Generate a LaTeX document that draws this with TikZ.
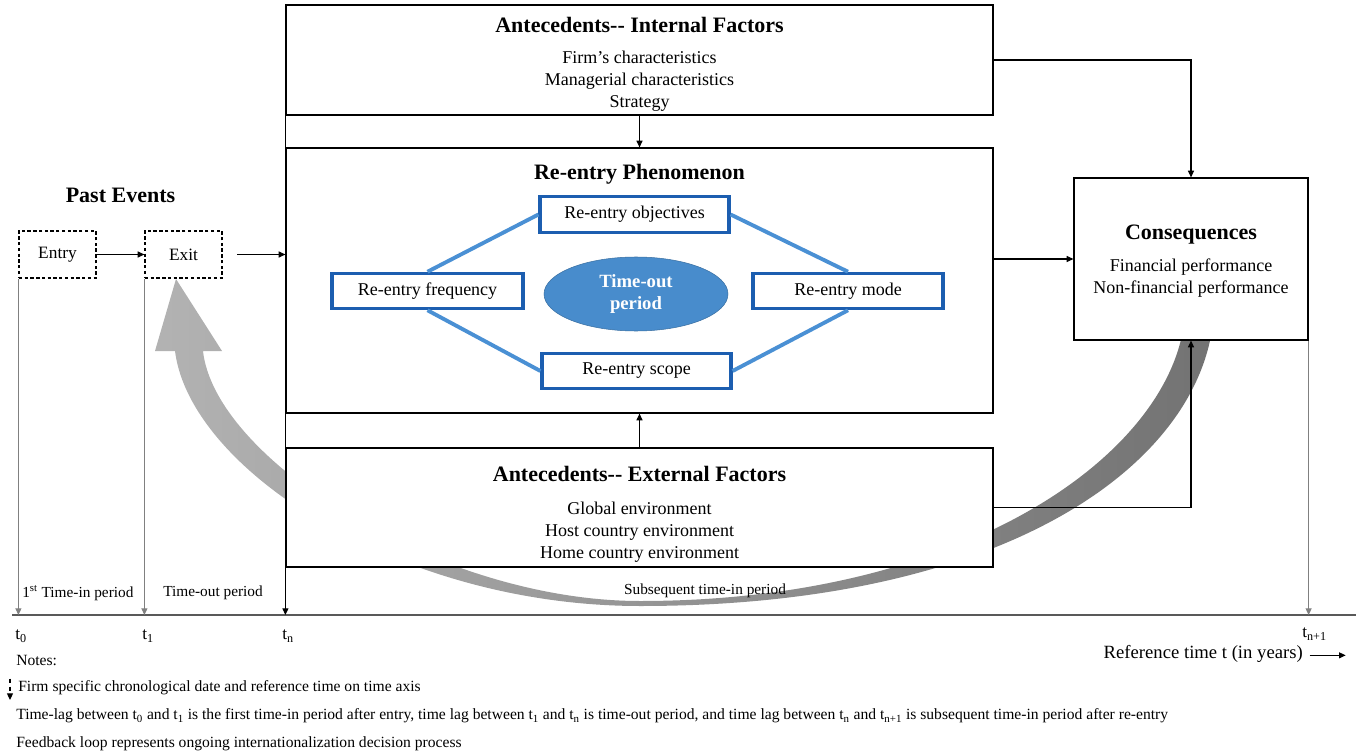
\documentclass[tikz,border=0pt]{standalone}
\usepackage{fontspec}
\setmainfont{Liberation Serif}
\usetikzlibrary{positioning,arrows.meta,shapes.geometric}

\definecolor{boxblue}{RGB}{28,94,176}
\definecolor{lineblue}{RGB}{74,144,212}
\definecolor{ovalblue}{RGB}{72,140,204}
\definecolor{timegray}{RGB}{128,128,128}

\tikzset{
	bigbox/.style={draw, line width=0.9pt, fill=white, inner sep=0pt, minimum width=530.25pt},
	boxtext/.style={align=center, inner sep=0pt, font=\fontsize{13.5}{16.5}\selectfont},
	pastbox/.style={draw, dashed, dash pattern=on 2.5pt off 1.8pt, line width=0.9pt, minimum width=57.75pt, minimum height=35.25pt, inner sep=0pt, font=\fontsize{13}{15}\selectfont},
	rebox/.style={draw=boxblue, line width=2.4pt, fill=white, inner sep=0pt, minimum height=26.5pt, font=\fontsize{13.5}{15}\selectfont},
	bline/.style={draw=lineblue, line width=2.9pt},
	arr/.style={-{Triangle[length=5pt,width=4.5pt]}, line width=0.8pt},
	tline/.style={-{Triangle[length=5pt,width=4.5pt]}, line width=0.8pt, draw=timegray},
	ttl/.style={font=\fontsize{16.5}{18}\selectfont\bfseries},
	lbl/.style={font=\fontsize{11.5}{13}\selectfont, inner sep=0pt},
	tlbl/.style={font=\fontsize{13}{15}\selectfont, inner sep=0pt},
	note/.style={font=\fontsize{11.7}{13}\selectfont, inner sep=0pt, anchor=west},
}

\begin{document}
\begin{tikzpicture}[x=0.75pt, y=-0.75pt]
	\useasboundingbox (0,0) rectangle (1356,756);

	% feedback loop
	\shade[left color=black!30, right color=black!55]
		(1212,330) .. controls (1190,470) and (1000,606) .. (640,606)
		.. controls (400,606) and (190,470) .. (175,351)
		-- (155,351) -- (176,279) -- (222,351) -- (203,351)
		.. controls (215,460) and (440,601) .. (640,601)
		.. controls (960,601) and (1160,460) .. (1183,330) -- cycle;

	% main boxes
	\node[bigbox, minimum height=82.5pt] (int) at (639.5,60) {};
	\node[boxtext] (intt) at ([yshift=-3pt]int.center) {{\fontsize{16.5}{18}\selectfont\bfseries Antecedents-{}- Internal Factors}\\[6.5pt] Firm's characteristics\\ Managerial characteristics\\ Strategy};
	\node[bigbox, minimum height=198.75pt] (reph) at (639.5,280.5) {};
	\node[ttl] (rettl) at ([yshift=-20pt]reph.north) {Re-entry Phenomenon};
	\node[bigbox, minimum height=89.25pt] (ext) at (639.5,507.5) {};
	\node[boxtext] (extt) at ([yshift=-5pt]ext.center) {{\fontsize{16.5}{18}\selectfont\bfseries Antecedents-{}- External Factors}\\[8pt] Global environment\\ Host country environment\\ Home country environment};
	\node[bigbox, minimum width=175.5pt, minimum height=121.5pt] (cons) at (1191,259) {};
	\node[boxtext] (const) at ([yshift=-1.5pt]cons.center) {{\fontsize{16.5}{18}\selectfont\bfseries Consequences}\\[8pt] Financial performance\\ Non-financial performance};

	% re-entry phenomenon
	\node[rebox, minimum width=141.75pt] (obj) at (634.5,214.5) {Re-entry objectives};
	\node[rebox, minimum width=143.25pt] (freq) at (427.5,291) {Re-entry frequency};
	\node[rebox, minimum width=142.5pt] (mode) at (848,291) {Re-entry mode};
	\node[rebox, minimum width=141.75pt] (scope) at (636.5,371) {Re-entry scope};
	\node[ellipse, fill=ovalblue, draw=ovalblue!80!black, minimum width=138pt, minimum height=55.5pt, inner sep=0pt, align=center, text=white, font=\fontsize{14}{17}\selectfont\bfseries] (tout) at (636,294) {Time-out\\period};

	\draw[bline] (freq.north) -- (obj.west);
	\draw[bline] (obj.east) -- (mode.north);
	\draw[bline] (freq.south) -- (scope.west);
	\draw[bline] (scope.east) -- (mode.south);

	% past events
	\node[pastbox] (entry) at (57.5,254.5) {Entry};
	\node[pastbox] (exit) at (183.5,254.5) {Exit};
	\path (entry) -- (exit) coordinate[midway] (pe);
	\node[ttl] (past) at ([yshift=44pt]pe) {Past Events};

	\draw[arr] (entry) -- (exit);
	\draw[arr] ([xshift=11pt]exit.east) -- (exit.east -| reph.west);
	\draw[arr] (int) -- (reph);
	\draw[arr] (ext) -- (reph);
	\draw[arr] (int.east) -| (cons.north);
	\draw[arr] (reph.east |- cons.west) -- (cons.west);
	\draw[arr] (ext.east) -| (cons.south);

	% time axis
	\coordinate (ax0) at (12,615);
	\coordinate (ax1) at (1356,615);
	\draw[line width=1.1pt, draw=black!65] (ax0) -- (ax1);
	\draw[tline] (entry.south west) -- (entry.south west |- ax0);
	\draw[tline] (exit.south west) -- (exit.south west |- ax0);
	\draw[arr] (int.north west) -- (int.north west |- ax0);
	\draw[tline] (cons.south east) -- (cons.south east |- ax0);

	\node[lbl, anchor=west] (tin) at (22,593) {1\textsuperscript{st} Time-in period};
	\node[lbl, anchor=west] (toutp) at (163,593) {Time-out period};
	\node[lbl] (tsub) at (705,591) {Subsequent time-in period};
	\node[tlbl, anchor=west] (t0) at (15,636) {t\textsubscript{0}};
	\node[tlbl, anchor=west] (t1) at (142,636) {t\textsubscript{1}};
	\node[tlbl, anchor=west] (tn) at (282,636) {t\textsubscript{n}};
	\node[tlbl, anchor=west] (tn1) at (1302,634) {t\textsubscript{n+1}};
	\node[anchor=east, inner sep=0pt, font=\fontsize{14}{16}\selectfont] (reft) at (1303,654) {Reference time t (in years)};
	\draw[arr] ([xshift=5pt,yshift=-1pt]reft.east) -- ([xshift=32pt,yshift=-1pt]reft.east);

	% notes
	\node[note] (notes) at (16,660) {Notes:};
	\node[note] (n1) at (18,688) {Firm specific chronological date and reference time on time axis};
	\node[note] (n2) at (16,716) {Time-lag between t\textsubscript{0} and t\textsubscript{1} is the first time-in period after entry, time lag between t\textsubscript{1} and t\textsubscript{n} is time-out period, and time lag between t\textsubscript{n} and t\textsubscript{n+1} is subsequent time-in period after re-entry};
	\node[note] (n3) at (16,744) {Feedback loop represents ongoing internationalization decision process};
	\draw[arr, dashed] ([xshift=-6pt,yshift=7pt]n1.west) -- ([xshift=-6pt,yshift=-9pt]n1.west);
\end{tikzpicture}
\end{document}
